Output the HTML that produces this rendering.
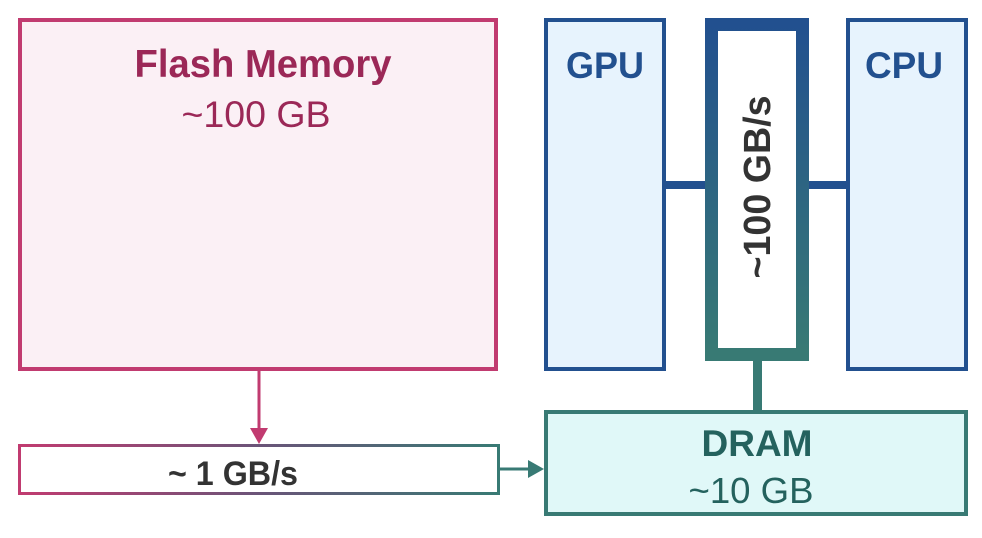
<!DOCTYPE html>
<html><head><meta charset="utf-8"><style>body{margin:0;background:#fff}svg{display:block}text{font-family:"Liberation Sans",sans-serif}</style></head>
<body>
<svg width="982" height="538" viewBox="0 0 982 538" xmlns="http://www.w3.org/2000/svg">
<defs>
<linearGradient id="hg" x1="0" x2="1" y1="0" y2="0"><stop offset="0" stop-color="#c13b70"/><stop offset="0.5" stop-color="#6a5478"/><stop offset="1" stop-color="#387a74"/></linearGradient>
<linearGradient id="vg" x1="0" x2="0" y1="0" y2="1"><stop offset="0" stop-color="#22508f"/><stop offset="1" stop-color="#387a74"/></linearGradient>
</defs>
<rect x="20" y="20" width="476" height="349" fill="#fbf0f5" stroke="#c13b70" stroke-width="4"/>
<text x="263" y="77" text-anchor="middle" font-size="39" font-weight="bold" fill="#9b2857" textLength="257" lengthAdjust="spacingAndGlyphs">Flash Memory</text>
<text x="256" y="127" text-anchor="middle" font-size="37" fill="#9b2857" textLength="149" lengthAdjust="spacingAndGlyphs">~100 GB</text>
<line x1="259" y1="371" x2="259" y2="430" stroke="#c13b70" stroke-width="3"/>
<polygon points="250,428 268,428 259,444" fill="#c13b70"/>
<rect x="19.5" y="445.5" width="479" height="48" fill="#fff" stroke="url(#hg)" stroke-width="3"/>
<text x="233" y="485" text-anchor="middle" font-size="34" font-weight="bold" fill="#333" textLength="130" lengthAdjust="spacingAndGlyphs">~ 1 GB/s</text>
<line x1="500" y1="469" x2="530" y2="469" stroke="#387a74" stroke-width="3"/>
<polygon points="528,460 544,469 528,478" fill="#387a74"/>
<rect x="546" y="20" width="118" height="349" fill="#e7f3fd" stroke="#22508f" stroke-width="4"/>
<text x="605" y="78" text-anchor="middle" font-size="37" font-weight="bold" fill="#22508f" textLength="78" lengthAdjust="spacingAndGlyphs">GPU</text>
<rect x="848" y="20" width="118" height="349" fill="#e7f3fd" stroke="#22508f" stroke-width="4"/>
<text x="904" y="78" text-anchor="middle" font-size="37" font-weight="bold" fill="#22508f" textLength="78" lengthAdjust="spacingAndGlyphs">CPU</text>
<rect x="666" y="181" width="40" height="8" fill="#22508f"/>
<rect x="808" y="181" width="40" height="8" fill="#22508f"/>
<rect x="711.5" y="24.5" width="91" height="330" fill="#fff" stroke="url(#vg)" stroke-width="13"/>
<text transform="translate(770,187) rotate(-90)" text-anchor="middle" font-size="38" font-weight="bold" fill="#333" textLength="183" lengthAdjust="spacingAndGlyphs">~100 GB/s</text>
<rect x="753" y="361" width="9" height="50" fill="#387a74"/>
<rect x="546" y="412" width="420" height="102" fill="#e0f8f8" stroke="#387a74" stroke-width="4"/>
<text x="757" y="456" text-anchor="middle" font-size="37" font-weight="bold" fill="#24625e" textLength="111" lengthAdjust="spacingAndGlyphs">DRAM</text>
<text x="751" y="503" text-anchor="middle" font-size="36" fill="#24625e" textLength="125" lengthAdjust="spacingAndGlyphs">~10 GB</text>
</svg>
</body></html>
